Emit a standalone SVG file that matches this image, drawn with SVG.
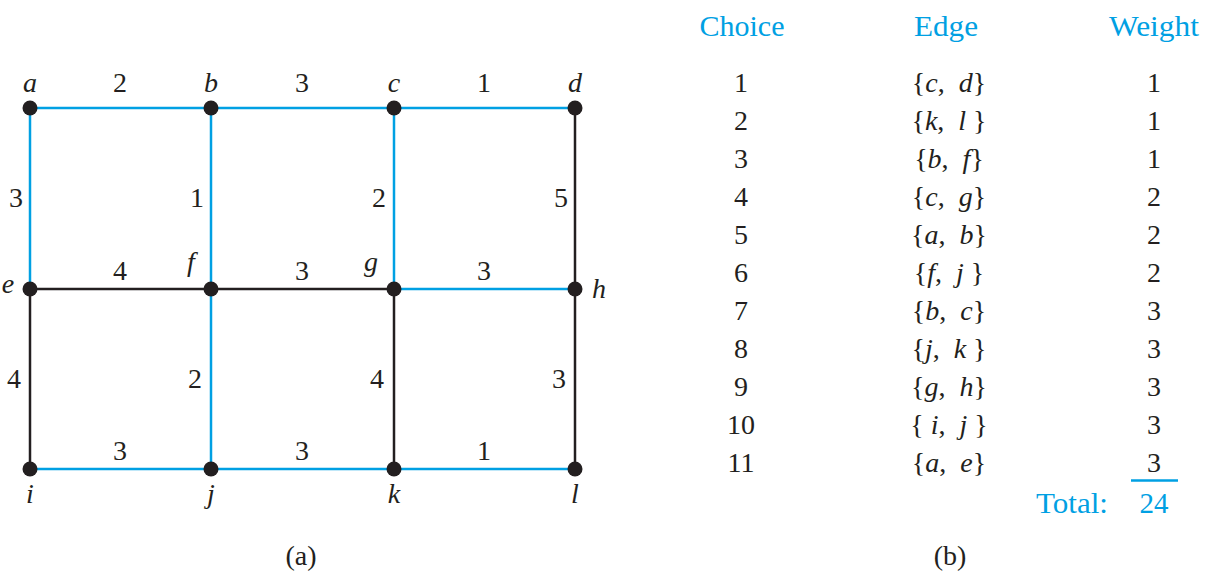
<svg xmlns="http://www.w3.org/2000/svg" width="1208" height="576" viewBox="0 0 1208 576">
<style>
text{font-family:'Liberation Serif','DejaVu Serif',serif;font-size:28px;fill:#231f20;text-anchor:middle}
.i{font-style:italic}
.bl{fill:#00a0e3;font-size:29px}
.eb{stroke:#00a0e3;stroke-width:2.5;fill:none}
.ek{stroke:#231f20;stroke-width:2.5;fill:none}
circle{fill:#231f20}
</style>
<rect width="1208" height="576" fill="#fff"/>
<g id="connectors">
<line class="eb" x1="30" y1="108" x2="211" y2="108"/>
<line class="eb" x1="211" y1="108" x2="394" y2="108"/>
<line class="eb" x1="394" y1="108" x2="575" y2="108"/>
<line class="eb" x1="30" y1="108" x2="30" y2="289"/>
<line class="eb" x1="211" y1="108" x2="211" y2="289"/>
<line class="eb" x1="394" y1="108" x2="394" y2="289"/>
<line class="ek" x1="575" y1="108" x2="575" y2="289"/>
<line class="ek" x1="30" y1="289" x2="211" y2="289"/>
<line class="ek" x1="211" y1="289" x2="394" y2="289"/>
<line class="eb" x1="394" y1="289" x2="575" y2="289"/>
<line class="ek" x1="30" y1="289" x2="30" y2="469"/>
<line class="eb" x1="211" y1="289" x2="211" y2="469"/>
<line class="ek" x1="394" y1="289" x2="394" y2="469"/>
<line class="ek" x1="575" y1="289" x2="575" y2="469"/>
<line class="eb" x1="30" y1="469" x2="211" y2="469"/>
<line class="eb" x1="211" y1="469" x2="394" y2="469"/>
<line class="eb" x1="394" y1="469" x2="575" y2="469"/>
<text x="120" y="92">2</text>
<text x="302" y="92">3</text>
<text x="484" y="92">1</text>
<text x="16" y="207">3</text>
<text x="197" y="207">1</text>
<text x="379" y="207">2</text>
<text x="561" y="207">5</text>
<text x="120" y="280">4</text>
<text x="302" y="280">3</text>
<text x="484" y="280">3</text>
<text x="14" y="388">4</text>
<text x="195" y="388">2</text>
<text x="377" y="388">4</text>
<text x="559" y="388">3</text>
<text x="120" y="460">3</text>
<text x="302" y="460">3</text>
<text x="484" y="460">1</text>
</g>
<g id="a"><circle cx="30" cy="108" r="7.5"/><text class="i" x="30" y="92">a</text></g>
<g id="b"><circle cx="211" cy="108" r="7.5"/><text class="i" x="211" y="92">b</text></g>
<g id="c"><circle cx="394" cy="108" r="7.5"/><text class="i" x="394" y="92">c</text></g>
<g id="d"><circle cx="575" cy="108" r="7.5"/><text class="i" x="575" y="92">d</text></g>
<g id="e"><circle cx="30" cy="289" r="7.5"/><text class="i" x="8" y="293">e</text></g>
<g id="f"><circle cx="211" cy="289" r="7.5"/><text class="i" x="191" y="271">f</text></g>
<g id="g"><circle cx="394" cy="289" r="7.5"/><text class="i" x="371" y="271">g</text></g>
<g id="h"><circle cx="575" cy="289" r="7.5"/><text class="i" x="599" y="298">h</text></g>
<g id="i"><circle cx="30" cy="469" r="7.5"/><text class="i" x="30" y="503">i</text></g>
<g id="j"><circle cx="211" cy="469" r="7.5"/><text class="i" x="211" y="503">j</text></g>
<g id="k"><circle cx="394" cy="469" r="7.5"/><text class="i" x="394" y="503">k</text></g>
<g id="l"><circle cx="575" cy="469" r="7.5"/><text class="i" x="575" y="503">l</text></g>
<text x="301" y="565">(a)</text>
<g id="table">
<text class="bl" x="742" y="36" textLength="85" lengthAdjust="spacingAndGlyphs">Choice</text>
<text class="bl" x="946" y="36" textLength="64" lengthAdjust="spacingAndGlyphs">Edge</text>
<text class="bl" x="1154" y="36" textLength="90" lengthAdjust="spacingAndGlyphs">Weight</text>
<text x="741" y="92">1</text>
<text x="741" y="130">2</text>
<text x="741" y="168">3</text>
<text x="741" y="206">4</text>
<text x="741" y="244">5</text>
<text x="741" y="282">6</text>
<text x="741" y="320">7</text>
<text x="741" y="358">8</text>
<text x="741" y="396">9</text>
<text x="741" y="434">10</text>
<text x="741" y="472">11</text>
<text x="949" y="92">{<tspan class="i">c</tspan>,&#160; <tspan class="i">d</tspan>}</text>
<text x="949" y="130">{<tspan class="i">k</tspan>,&#160; <tspan class="i">l</tspan> }</text>
<text x="949" y="168">{<tspan class="i">b</tspan>,&#160; <tspan class="i">f</tspan>}</text>
<text x="949" y="206">{<tspan class="i">c</tspan>,&#160; <tspan class="i">g</tspan>}</text>
<text x="949" y="244">{<tspan class="i">a</tspan>,&#160; <tspan class="i">b</tspan>}</text>
<text x="949" y="282">{<tspan class="i">f</tspan>,&#160; <tspan class="i">j</tspan> }</text>
<text x="949" y="320">{<tspan class="i">b</tspan>,&#160; <tspan class="i">c</tspan>}</text>
<text x="949" y="358">{<tspan class="i">j</tspan>,&#160; <tspan class="i">k</tspan> }</text>
<text x="949" y="396">{<tspan class="i">g</tspan>,&#160; <tspan class="i">h</tspan>}</text>
<text x="949" y="434">{ <tspan class="i">i</tspan>,&#160; <tspan class="i">j</tspan> }</text>
<text x="949" y="472">{<tspan class="i">a</tspan>,&#160; <tspan class="i">e</tspan>}</text>
<text x="1154" y="92">1</text>
<text x="1154" y="130">1</text>
<text x="1154" y="168">1</text>
<text x="1154" y="206">2</text>
<text x="1154" y="244">2</text>
<text x="1154" y="282">2</text>
<text x="1154" y="320">3</text>
<text x="1154" y="358">3</text>
<text x="1154" y="396">3</text>
<text x="1154" y="434">3</text>
<text x="1154" y="472">3</text>
<line x1="1131" y1="480.5" x2="1178" y2="480.5" stroke="#00a0e3" stroke-width="2.5"/>
<text class="bl" x="1072" y="513" textLength="72" lengthAdjust="spacingAndGlyphs">Total:</text>
<text class="bl" x="1154" y="513">24</text>
<text x="950" y="565">(b)</text>
</g>
</svg>
